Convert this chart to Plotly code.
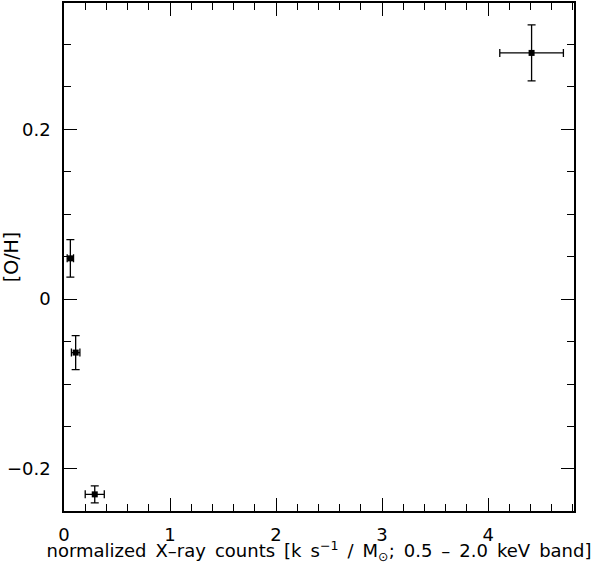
import plotly.graph_objects as go

# valores
xray_counts = [4.41, 0.06, 0.11, 0.29]
xray_err = [0.30, 0.03, 0.04, 0.09]
oh_abund = [0.290, 0.048, -0.063, -0.230]
oh_err = [0.033, 0.022, 0.020, 0.010]

fonte = 'DejaVu Sans'
esp = '\u2002'  # espaço mais largo, como na fonte original

titulo_x = esp.join([
    'normalized', 'X\u2013ray', 'counts', '[k', 's<sup>\u22121</sup>', '/',
    'M<sub>\u2299</sub>;', '0.5', '\u2013', '2.0', 'keV', 'band]'
])

fig = go.Figure()
fig.add_trace(go.Scatter(
    x=xray_counts, y=oh_abund,
    mode='markers',
    marker=dict(symbol='square', size=6, color='black'),
    error_x=dict(type='data', array=xray_err, color='black', thickness=1.3, width=4),
    error_y=dict(type='data', array=oh_err, color='black', thickness=1.3, width=4),
    showlegend=False
))

eixo = dict(
    showline=True, linecolor='black', linewidth=1.5, mirror='ticks',
    ticks='inside', ticklen=13, tickwidth=1.3, tickcolor='black',
    showgrid=False, zeroline=False, automargin=False,
    tickfont=dict(family=fonte, size=18, color='black'),
)
fig.update_xaxes(
    **eixo, range=[0, 4.81], dtick=1, tick0=0, ticklabelstandoff=7,
    minor=dict(dtick=0.2, ticks='inside', ticklen=7, tickcolor='black', tickwidth=1.2),
    title=dict(text=titulo_x, font=dict(family=fonte, size=18, color='black'), standoff=5),
)
fig.update_yaxes(
    **eixo, range=[-0.2496, 0.3488], tickvals=[-0.2, 0, 0.2], ticklabelstandoff=8,
    minor=dict(dtick=0.05, tick0=0, ticks='inside', ticklen=7, tickcolor='black', tickwidth=1.2),
    title=dict(text='[O/H]', font=dict(family=fonte, size=19, color='black'), standoff=12),
)
fig.update_layout(
    width=600, height=564,
    plot_bgcolor='white', paper_bgcolor='white',
    margin=dict(l=64, r=26, t=3, b=53),
)
fig.write_html("out.html", config={'displayModeBar': False},
               post_script="document.body.style.margin='0';")
